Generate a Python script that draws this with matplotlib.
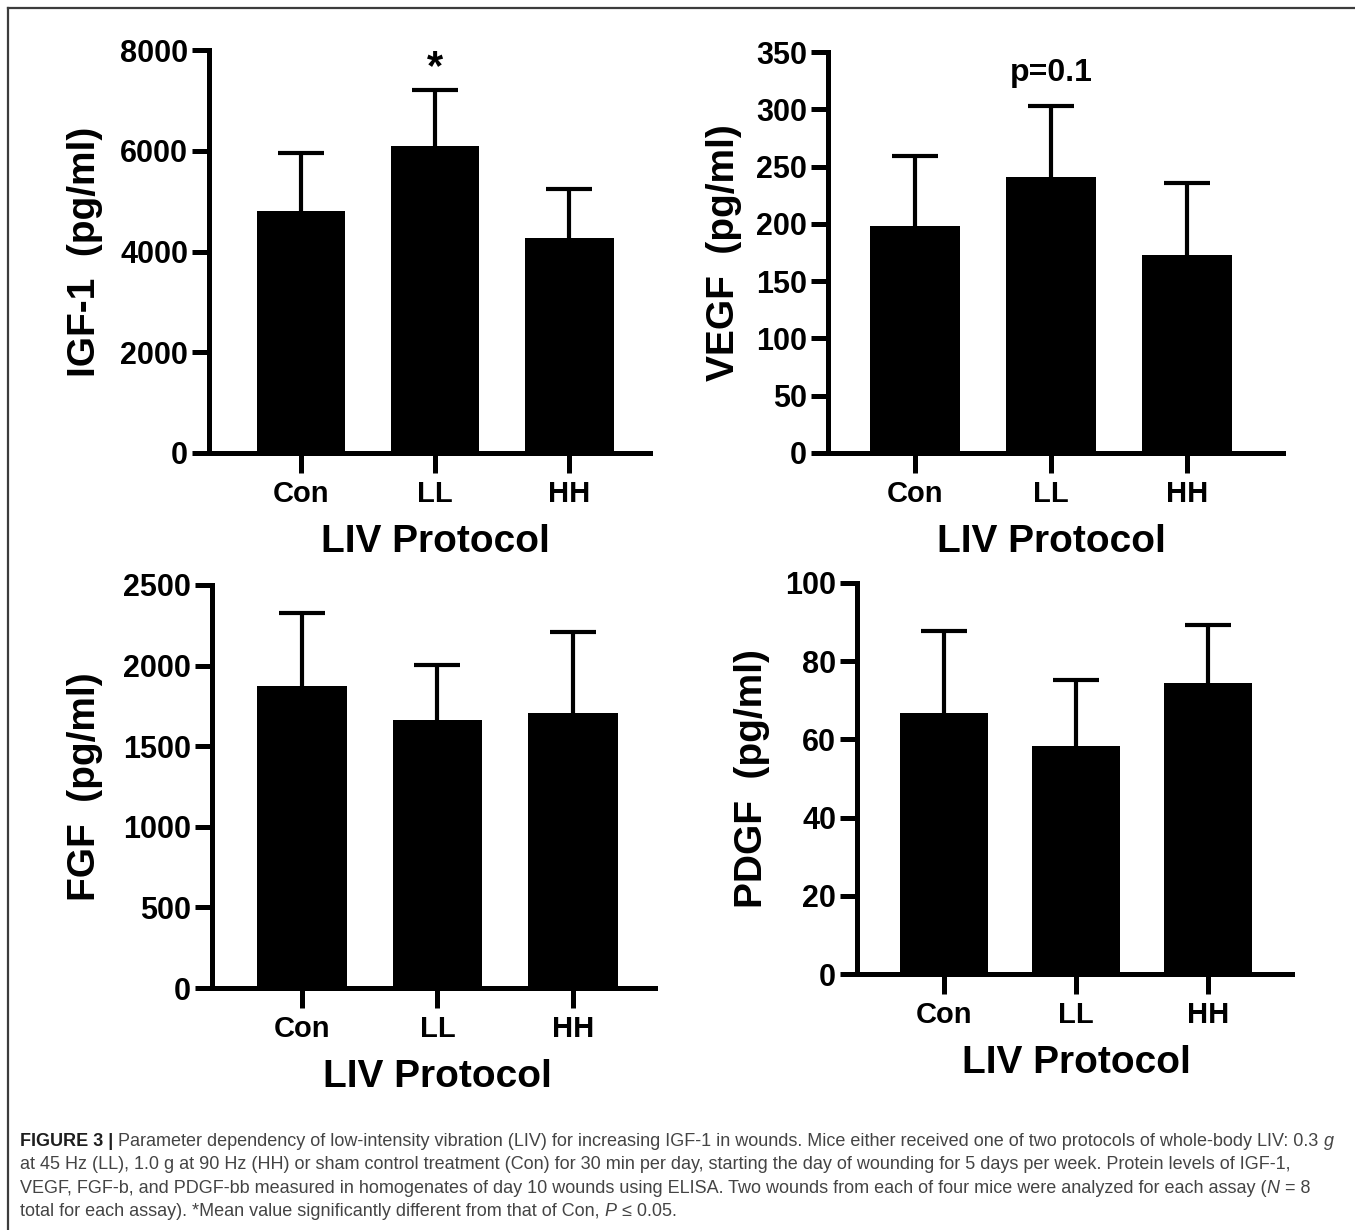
import numpy as np
import matplotlib
matplotlib.use("Agg")
import matplotlib.pyplot as plt
from matplotlib import font_manager
from matplotlib.lines import Line2D

# ---- data ----
categories = ['Con', 'LL', 'HH']

igf_mean = [4800, 6100, 4270]
igf_err = [1150, 1110, 965]

vegf_mean = [198, 241, 173]
vegf_err = [61, 62, 63]

fgf_mean = [1873, 1664, 1706]
fgf_err = [452, 337, 502]

pdgf_mean = [66.8, 58.3, 74.5]
pdgf_err = [21.0, 16.8, 14.8]

ylabels = ['IGF-1  (pg/ml)', 'VEGF  (pg/ml)', 'FGF  (pg/ml)', 'PDGF  (pg/ml)']
xlabel = 'LIV Protocol'

W, H = 1355, 1230
plt.rcParams['font.family'] = ['Liberation Sans', 'DejaVu Sans']
plt.rcParams['font.weight'] = 'bold'

fig = plt.figure(figsize=(W / 100, H / 100), dpi=100)
fig.patch.set_facecolor('white')


def px_axes(l, t, r, b):
    return fig.add_axes([l / W, 1 - b / H, (r - l) / W, (b - t) / H])


# axes boxes in pixels: left, top, right, bottom(=zero line)
boxes = [(209, 50, 650, 453), (828, 52, 1283, 453),
         (212, 585, 655, 988), (857, 583, 1292, 974)]
xlims = [(-0.684, 2.60), (-0.64, 2.706), (-0.664, 2.605), (-0.659, 2.636)]
ylims = [8000, 350, 2500, 100]
ysteps = [2000, 50, 500, 20]
ylab_x = [-0.281, -0.229, -0.287, -0.241]
xlab_y = [-0.222, -0.222, -0.222, -0.228]

means = [igf_mean, vegf_mean, fgf_mean, pdgf_mean]
errs = [igf_err, vegf_err, fgf_err, pdgf_err]

lw = 3.6
x = np.arange(len(categories))
axes = []
for i in range(4):
    ax = px_axes(*boxes[i])
    axes.append(ax)
    ax.bar(x, means[i], width=0.66, color='black', zorder=2)
    eb = ax.errorbar(x, means[i], yerr=[np.zeros(3), errs[i]], fmt='none',
                     ecolor='black', elinewidth=3.0, capsize=16.5, capthick=3.0, zorder=1)
    # hide the lower (zero-length) caps that would poke above the bar tops
    for cl in eb[1]:
        if np.allclose(cl.get_ydata(), means[i]):
            cl.set_visible(False)
    ax.set_xlim(*xlims[i])
    ax.set_ylim(0, ylims[i])
    ax.set_yticks(np.arange(0, ylims[i] + 1e-9, ysteps[i]))
    ax.set_xticks(x)
    ax.set_xticklabels(categories)
    for s in ['top', 'right']:
        ax.spines[s].set_visible(False)
    for s in ['left', 'bottom']:
        ax.spines[s].set_linewidth(lw)
        ax.spines[s].set_capstyle('projecting')
    ax.tick_params(axis='y', length=12, width=lw, labelsize=22, pad=3)
    ax.tick_params(axis='x', length=14.5, width=lw, labelsize=21, pad=5)
    ax.set_ylabel(ylabels[i], fontsize=28, fontweight='bold', va='center')
    ax.yaxis.set_label_coords(ylab_x[i], 0.5)
    xl0, xl1 = xlims[i]
    ax.set_xlabel(xlabel, fontsize=28, fontweight='bold', va='center')
    ax.xaxis.set_label_coords((1 - xl0) / (xl1 - xl0), xlab_y[i])

axes[0].text(1, 7650, '*', ha='center', va='center', fontsize=30, fontweight='bold')
axes[1].text(1, 332, 'p=0.1', ha='center', va='center', fontsize=23, fontweight='bold')

# frame lines (top and left)
fig.add_artist(Line2D([8 / W, 8 / W], [0, 1 - 8 / H], color='#3c3c3c', lw=1.6))
fig.add_artist(Line2D([8 / W, 1], [1 - 8 / H, 1 - 8 / H], color='#3c3c3c', lw=1.6))

# ---- caption ----
names = {f.name for f in font_manager.fontManager.ttflist}
cap_family = ['Liberation Sans Narrow', 'DejaVu Sans'] if 'Liberation Sans Narrow' in names \
    else ['Liberation Sans', 'DejaVu Sans']

caption = [
    [('FIGURE 3 |', 'bold', 'normal'),
     (' Parameter dependency of low-intensity vibration (LIV) for increasing IGF-1 in wounds. '
      'Mice either received one of two protocols of whole-body LIV: 0.3 ', 'normal', 'normal'),
     ('g', 'normal', 'italic')],
    [('at 45 Hz (LL), 1.0 g at 90 Hz (HH) or sham control treatment (Con) for 30 min per day, '
      'starting the day of wounding for 5 days per week. Protein levels of IGF-1,', 'normal', 'normal')],
    [('VEGF, FGF-b, and PDGF-bb measured in homogenates of day 10 wounds using ELISA. '
      'Two wounds from each of four mice were analyzed for each assay (', 'normal', 'normal'),
     ('N', 'normal', 'italic'), (' = 8', 'normal', 'normal')],
    [('total for each assay). *Mean value significantly different from that of Con, ', 'normal', 'normal'),
     ('P', 'normal', 'italic'), (' \u2264 0.05.', 'normal', 'normal')],
]
baselines = [1146, 1169, 1193, 1216]
renderer = fig.canvas.get_renderer()


def measure(s, size, weight='normal', style='normal'):
    t = fig.text(0, 0, s, fontsize=size, family=cap_family, fontweight=weight, fontstyle=style)
    w = t.get_window_extent(renderer).width
    t.remove()
    return w


def draw_line(runs, x0, yb, size, draw=True):
    sp = measure('a a', size) - measure('aa', size)
    xx = x0
    for txt, weight, style in runs:
        lead = len(txt) - len(txt.lstrip(' '))
        trail = len(txt) - len(txt.rstrip(' '))
        core = txt.strip(' ')
        xx += lead * sp
        col = '#1e1e1e' if weight == 'bold' else '#444444'
        t = fig.text(xx / W, 1 - yb / H, core, fontsize=size, family=cap_family,
                     fontweight=weight, fontstyle=style, color=col, va='baseline', ha='left')
        xx += t.get_window_extent(renderer).width
        if not draw:
            t.remove()
        xx += trail * sp
    return xx - x0


size0 = 12
w0 = draw_line(caption[0], 20, baselines[0], size0, draw=False)
cap_size = size0 * (1338 - 20) / w0
for runs, yb in zip(caption, baselines):
    draw_line(runs, 20, yb, cap_size)

fig.savefig('out.png', dpi=100, facecolor='white')
